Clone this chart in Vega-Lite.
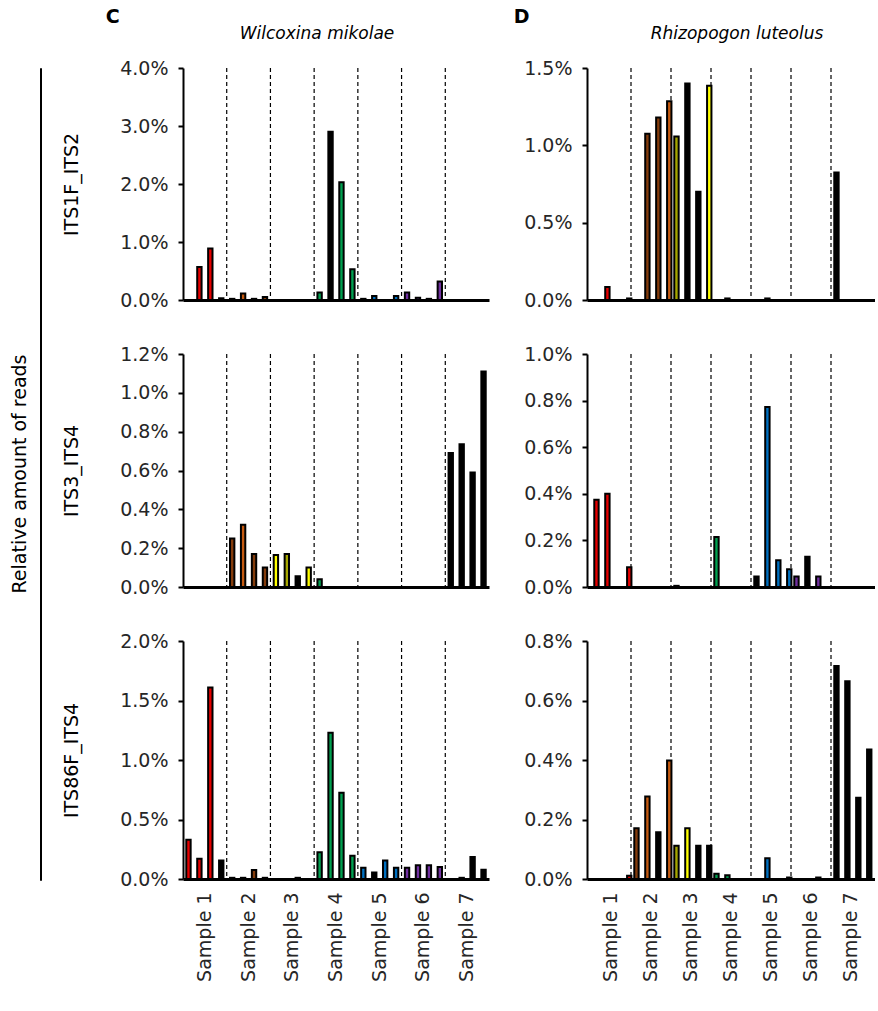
{
  "$schema": "https://vega.github.io/schema/vega-lite/v6.json",
  "padding": {"left": 10, "top": 8, "right": 0, "bottom": 0},
  "background": "white",
  "config": {
    "view": {"stroke": null},
    "font": "DejaVu Sans",
    "axis": {"labelFont": "DejaVu Sans", "labelFontSize": 19, "labelColor": "#262626", "domainColor": "black", "domainWidth": 2, "tickColor": "black", "tickWidth": 2, "tickSize": 5, "labelPadding": 10, "grid": false, "titleFont": "DejaVu Sans", "titleFontWeight": "normal", "titleColor": "#000", "titleFontSize": 19},
    "axisX": {"domainWidth": 3, "ticks": false},
    "title": {"font": "DejaVu Sans", "color": "#000"}
  },
  "datasets": {
    "dividers": [{"sample": "Sample 2"}, {"sample": "Sample 3"}, {"sample": "Sample 4"}, {"sample": "Sample 5"}, {"sample": "Sample 6"}, {"sample": "Sample 7"}],
    "bars": [
      {"species": "W", "primer": "ITS1F_ITS2", "sample": "Sample 1", "rep": 2, "value": 0.0057, "group": "S1"},
      {"species": "W", "primer": "ITS1F_ITS2", "sample": "Sample 1", "rep": 3, "value": 0.0089, "group": "S1"},
      {"species": "W", "primer": "ITS1F_ITS2", "sample": "Sample 1", "rep": 4, "value": 0.0003, "group": "K"},
      {"species": "W", "primer": "ITS1F_ITS2", "sample": "Sample 2", "rep": 1, "value": 0.0002, "group": "S2a"},
      {"species": "W", "primer": "ITS1F_ITS2", "sample": "Sample 2", "rep": 2, "value": 0.0011, "group": "S2b"},
      {"species": "W", "primer": "ITS1F_ITS2", "sample": "Sample 2", "rep": 3, "value": 0.0002, "group": "S2a"},
      {"species": "W", "primer": "ITS1F_ITS2", "sample": "Sample 2", "rep": 4, "value": 0.0005, "group": "S2a"},
      {"species": "W", "primer": "ITS1F_ITS2", "sample": "Sample 4", "rep": 1, "value": 0.0013, "group": "S4"},
      {"species": "W", "primer": "ITS1F_ITS2", "sample": "Sample 4", "rep": 2, "value": 0.029, "group": "K"},
      {"species": "W", "primer": "ITS1F_ITS2", "sample": "Sample 4", "rep": 3, "value": 0.0203, "group": "S4"},
      {"species": "W", "primer": "ITS1F_ITS2", "sample": "Sample 4", "rep": 4, "value": 0.0053, "group": "S4"},
      {"species": "W", "primer": "ITS1F_ITS2", "sample": "Sample 5", "rep": 1, "value": 0.0002, "group": "S5"},
      {"species": "W", "primer": "ITS1F_ITS2", "sample": "Sample 5", "rep": 2, "value": 0.0007, "group": "S5"},
      {"species": "W", "primer": "ITS1F_ITS2", "sample": "Sample 5", "rep": 4, "value": 0.0007, "group": "S5"},
      {"species": "W", "primer": "ITS1F_ITS2", "sample": "Sample 6", "rep": 1, "value": 0.0013, "group": "S6"},
      {"species": "W", "primer": "ITS1F_ITS2", "sample": "Sample 6", "rep": 2, "value": 0.0004, "group": "S6"},
      {"species": "W", "primer": "ITS1F_ITS2", "sample": "Sample 6", "rep": 3, "value": 0.0002, "group": "S6"},
      {"species": "W", "primer": "ITS1F_ITS2", "sample": "Sample 6", "rep": 4, "value": 0.0032, "group": "S6"},

      {"species": "W", "primer": "ITS3_ITS4", "sample": "Sample 2", "rep": 1, "value": 0.0025, "group": "S2a"},
      {"species": "W", "primer": "ITS3_ITS4", "sample": "Sample 2", "rep": 2, "value": 0.0032, "group": "S2b"},
      {"species": "W", "primer": "ITS3_ITS4", "sample": "Sample 2", "rep": 3, "value": 0.0017, "group": "S2a"},
      {"species": "W", "primer": "ITS3_ITS4", "sample": "Sample 2", "rep": 4, "value": 0.0010, "group": "S2a"},
      {"species": "W", "primer": "ITS3_ITS4", "sample": "Sample 3", "rep": 1, "value": 0.00165, "group": "S3a"},
      {"species": "W", "primer": "ITS3_ITS4", "sample": "Sample 3", "rep": 2, "value": 0.0017, "group": "S3b"},
      {"species": "W", "primer": "ITS3_ITS4", "sample": "Sample 3", "rep": 3, "value": 0.00055, "group": "K"},
      {"species": "W", "primer": "ITS3_ITS4", "sample": "Sample 3", "rep": 4, "value": 0.0010, "group": "S3a"},
      {"species": "W", "primer": "ITS3_ITS4", "sample": "Sample 4", "rep": 1, "value": 0.0004, "group": "S4"},
      {"species": "W", "primer": "ITS3_ITS4", "sample": "Sample 7", "rep": 1, "value": 0.0069, "group": "K"},
      {"species": "W", "primer": "ITS3_ITS4", "sample": "Sample 7", "rep": 2, "value": 0.00735, "group": "K"},
      {"species": "W", "primer": "ITS3_ITS4", "sample": "Sample 7", "rep": 3, "value": 0.0059, "group": "K"},
      {"species": "W", "primer": "ITS3_ITS4", "sample": "Sample 7", "rep": 4, "value": 0.0111, "group": "K"},

      {"species": "W", "primer": "ITS86F_ITS4", "sample": "Sample 1", "rep": 1, "value": 0.0033, "group": "S1"},
      {"species": "W", "primer": "ITS86F_ITS4", "sample": "Sample 1", "rep": 2, "value": 0.0017, "group": "S1"},
      {"species": "W", "primer": "ITS86F_ITS4", "sample": "Sample 1", "rep": 3, "value": 0.0161, "group": "S1"},
      {"species": "W", "primer": "ITS86F_ITS4", "sample": "Sample 1", "rep": 4, "value": 0.00155, "group": "K"},
      {"species": "W", "primer": "ITS86F_ITS4", "sample": "Sample 2", "rep": 1, "value": 0.0001, "group": "S2a"},
      {"species": "W", "primer": "ITS86F_ITS4", "sample": "Sample 2", "rep": 2, "value": 0.0001, "group": "S2b"},
      {"species": "W", "primer": "ITS86F_ITS4", "sample": "Sample 2", "rep": 3, "value": 0.00075, "group": "S2a"},
      {"species": "W", "primer": "ITS86F_ITS4", "sample": "Sample 2", "rep": 4, "value": 0.0001, "group": "S2b"},
      {"species": "W", "primer": "ITS86F_ITS4", "sample": "Sample 3", "rep": 3, "value": 0.0001, "group": "K"},
      {"species": "W", "primer": "ITS86F_ITS4", "sample": "Sample 4", "rep": 1, "value": 0.00225, "group": "S4"},
      {"species": "W", "primer": "ITS86F_ITS4", "sample": "Sample 4", "rep": 2, "value": 0.0123, "group": "S4"},
      {"species": "W", "primer": "ITS86F_ITS4", "sample": "Sample 4", "rep": 3, "value": 0.00725, "group": "S4"},
      {"species": "W", "primer": "ITS86F_ITS4", "sample": "Sample 4", "rep": 4, "value": 0.00195, "group": "S4"},
      {"species": "W", "primer": "ITS86F_ITS4", "sample": "Sample 5", "rep": 1, "value": 0.00095, "group": "S5"},
      {"species": "W", "primer": "ITS86F_ITS4", "sample": "Sample 5", "rep": 2, "value": 0.00055, "group": "K"},
      {"species": "W", "primer": "ITS86F_ITS4", "sample": "Sample 5", "rep": 3, "value": 0.00155, "group": "S5"},
      {"species": "W", "primer": "ITS86F_ITS4", "sample": "Sample 5", "rep": 4, "value": 0.00095, "group": "S5"},
      {"species": "W", "primer": "ITS86F_ITS4", "sample": "Sample 6", "rep": 1, "value": 0.00095, "group": "S6"},
      {"species": "W", "primer": "ITS86F_ITS4", "sample": "Sample 6", "rep": 2, "value": 0.00115, "group": "S6"},
      {"species": "W", "primer": "ITS86F_ITS4", "sample": "Sample 6", "rep": 3, "value": 0.00115, "group": "S6"},
      {"species": "W", "primer": "ITS86F_ITS4", "sample": "Sample 6", "rep": 4, "value": 0.0010, "group": "S6"},
      {"species": "W", "primer": "ITS86F_ITS4", "sample": "Sample 7", "rep": 2, "value": 0.0001, "group": "K"},
      {"species": "W", "primer": "ITS86F_ITS4", "sample": "Sample 7", "rep": 3, "value": 0.00185, "group": "K"},
      {"species": "W", "primer": "ITS86F_ITS4", "sample": "Sample 7", "rep": 4, "value": 0.00078, "group": "K"},

      {"species": "R", "primer": "ITS1F_ITS2", "sample": "Sample 1", "rep": 2, "value": 0.00084, "group": "S1"},
      {"species": "R", "primer": "ITS1F_ITS2", "sample": "Sample 1", "rep": 4, "value": 0.0001, "group": "K"},
      {"species": "R", "primer": "ITS1F_ITS2", "sample": "Sample 2", "rep": 2, "value": 0.01075, "group": "S2a"},
      {"species": "R", "primer": "ITS1F_ITS2", "sample": "Sample 2", "rep": 3, "value": 0.0118, "group": "S2a"},
      {"species": "R", "primer": "ITS1F_ITS2", "sample": "Sample 2", "rep": 4, "value": 0.01285, "group": "S2b"},
      {"species": "R", "primer": "ITS1F_ITS2", "sample": "Sample 3", "rep": 1, "value": 0.01057, "group": "S3b"},
      {"species": "R", "primer": "ITS1F_ITS2", "sample": "Sample 3", "rep": 2, "value": 0.0140, "group": "K"},
      {"species": "R", "primer": "ITS1F_ITS2", "sample": "Sample 3", "rep": 3, "value": 0.0070, "group": "K"},
      {"species": "R", "primer": "ITS1F_ITS2", "sample": "Sample 3", "rep": 4, "value": 0.01385, "group": "S3a"},
      {"species": "R", "primer": "ITS1F_ITS2", "sample": "Sample 4", "rep": 2, "value": 0.0001, "group": "K"},
      {"species": "R", "primer": "ITS1F_ITS2", "sample": "Sample 5", "rep": 2, "value": 0.0001, "group": "K"},
      {"species": "R", "primer": "ITS1F_ITS2", "sample": "Sample 7", "rep": 1, "value": 0.00825, "group": "K"},

      {"species": "R", "primer": "ITS3_ITS4", "sample": "Sample 1", "rep": 1, "value": 0.00375, "group": "S1"},
      {"species": "R", "primer": "ITS3_ITS4", "sample": "Sample 1", "rep": 2, "value": 0.0040, "group": "S1"},
      {"species": "R", "primer": "ITS3_ITS4", "sample": "Sample 1", "rep": 4, "value": 0.00085, "group": "S1"},
      {"species": "R", "primer": "ITS3_ITS4", "sample": "Sample 3", "rep": 1, "value": 0.00005, "group": "K"},
      {"species": "R", "primer": "ITS3_ITS4", "sample": "Sample 4", "rep": 1, "value": 0.00215, "group": "S4"},
      {"species": "R", "primer": "ITS3_ITS4", "sample": "Sample 5", "rep": 1, "value": 0.00045, "group": "K"},
      {"species": "R", "primer": "ITS3_ITS4", "sample": "Sample 5", "rep": 2, "value": 0.00772, "group": "S5"},
      {"species": "R", "primer": "ITS3_ITS4", "sample": "Sample 5", "rep": 3, "value": 0.00115, "group": "S5"},
      {"species": "R", "primer": "ITS3_ITS4", "sample": "Sample 5", "rep": 4, "value": 0.00076, "group": "S5"},
      {"species": "R", "primer": "ITS3_ITS4", "sample": "Sample 6", "rep": 1, "value": 0.00045, "group": "S6"},
      {"species": "R", "primer": "ITS3_ITS4", "sample": "Sample 6", "rep": 2, "value": 0.0013, "group": "K"},
      {"species": "R", "primer": "ITS3_ITS4", "sample": "Sample 6", "rep": 3, "value": 0.00045, "group": "S6"},

      {"species": "R", "primer": "ITS86F_ITS4", "sample": "Sample 1", "rep": 4, "value": 0.00011, "group": "S1"},
      {"species": "R", "primer": "ITS86F_ITS4", "sample": "Sample 2", "rep": 1, "value": 0.00171, "group": "S2a"},
      {"species": "R", "primer": "ITS86F_ITS4", "sample": "Sample 2", "rep": 2, "value": 0.00277, "group": "S2b"},
      {"species": "R", "primer": "ITS86F_ITS4", "sample": "Sample 2", "rep": 3, "value": 0.00157, "group": "K"},
      {"species": "R", "primer": "ITS86F_ITS4", "sample": "Sample 2", "rep": 4, "value": 0.00398, "group": "S2b"},
      {"species": "R", "primer": "ITS86F_ITS4", "sample": "Sample 3", "rep": 1, "value": 0.00112, "group": "S3b"},
      {"species": "R", "primer": "ITS86F_ITS4", "sample": "Sample 3", "rep": 2, "value": 0.00171, "group": "S3a"},
      {"species": "R", "primer": "ITS86F_ITS4", "sample": "Sample 3", "rep": 3, "value": 0.00112, "group": "K"},
      {"species": "R", "primer": "ITS86F_ITS4", "sample": "Sample 3", "rep": 4, "value": 0.00112, "group": "K"},
      {"species": "R", "primer": "ITS86F_ITS4", "sample": "Sample 4", "rep": 1, "value": 0.00018, "group": "S4"},
      {"species": "R", "primer": "ITS86F_ITS4", "sample": "Sample 4", "rep": 2, "value": 0.00013, "group": "S4"},
      {"species": "R", "primer": "ITS86F_ITS4", "sample": "Sample 5", "rep": 2, "value": 0.0007, "group": "S5"},
      {"species": "R", "primer": "ITS86F_ITS4", "sample": "Sample 5", "rep": 4, "value": 0.00005, "group": "K"},
      {"species": "R", "primer": "ITS86F_ITS4", "sample": "Sample 6", "rep": 3, "value": 0.00005, "group": "K"},
      {"species": "R", "primer": "ITS86F_ITS4", "sample": "Sample 7", "rep": 1, "value": 0.00716, "group": "K"},
      {"species": "R", "primer": "ITS86F_ITS4", "sample": "Sample 7", "rep": 2, "value": 0.00665, "group": "K"},
      {"species": "R", "primer": "ITS86F_ITS4", "sample": "Sample 7", "rep": 3, "value": 0.00273, "group": "K"},
      {"species": "R", "primer": "ITS86F_ITS4", "sample": "Sample 7", "rep": 4, "value": 0.00435, "group": "K"}
    ]
  },
  "spacing": 20,
  "hconcat": [
    {"width": 1, "height": 812, "data": {"values": []}, "mark": "rule", "encoding": {},
     "view": {"stroke": "black", "strokeWidth": 1},
     "title": {"text": "Relative amount of reads", "orient": "left", "fontSize": 19, "fontWeight": "normal", "font": "DejaVu Sans", "offset": 10}},
    {
      "spacing": 24,
      "hconcat": [
        {
          "title": {"text": "C", "anchor": "start", "fontSize": 19, "fontWeight": "bold", "dx": 43, "offset": -2},
          "spacing": 35,
          "vconcat": [
            {
              "width": 306, "height": 232,
              "title": {"text": "Wilcoxina mikolae", "fontStyle": "italic", "fontWeight": "normal", "fontSize": 17, "frame": "group", "dx": -19, "offset": 16},
              "layer": [
                {"data": {"name": "dividers"}, "mark": {"type": "rule", "color": "black", "strokeDash": [4, 3], "strokeWidth": 1.2},
                 "encoding": {"x": {"field": "sample", "type": "nominal", "bandPosition": 0, "scale": {"type": "band", "domain": ["Sample 1", "Sample 2", "Sample 3", "Sample 4", "Sample 5", "Sample 6", "Sample 7"], "paddingInner": 0, "paddingOuter": 0}}}},
                {"data": {"name": "bars"}, "transform": [{"filter": "datum.species == 'W' && datum.primer == 'ITS1F_ITS2'"}],
                 "mark": {"type": "bar", "stroke": "black", "strokeWidth": 2},
                 "encoding": {
                   "x": {"field": "sample", "type": "nominal", "scale": {"type": "band", "domain": ["Sample 1", "Sample 2", "Sample 3", "Sample 4", "Sample 5", "Sample 6", "Sample 7"], "paddingInner": 0, "paddingOuter": 0}, "axis": {"labels": false, "title": null}},
                   "xOffset": {"field": "rep", "type": "ordinal", "scale": {"domain": [1, 2, 3, 4], "paddingInner": 0.6, "paddingOuter": 0.3}},
                   "y": {"field": "value", "type": "quantitative", "scale": {"domain": [0, 0.04], "nice": false}, "axis": {"values": [0, 0.01, 0.02, 0.03, 0.04], "format": ".1%", "title": "ITS1F_ITS2", "titlePadding": 38}},
                   "color": {"field": "group", "type": "nominal", "legend": null, "scale": {"domain": ["S1", "S2a", "S2b", "S3a", "S3b", "S4", "S5", "S6", "K"], "range": ["#e60000", "#843c0c", "#c55a11", "#ffff00", "#a6a600", "#00a050", "#0070c0", "#7030a0", "#000000"]}}
                 }}
              ]
            },
            {
              "width": 306, "height": 233,
              "layer": [
                {"data": {"name": "dividers"}, "mark": {"type": "rule", "color": "black", "strokeDash": [4, 3], "strokeWidth": 1.2},
                 "encoding": {"x": {"field": "sample", "type": "nominal", "bandPosition": 0, "scale": {"type": "band", "domain": ["Sample 1", "Sample 2", "Sample 3", "Sample 4", "Sample 5", "Sample 6", "Sample 7"], "paddingInner": 0, "paddingOuter": 0}}}},
                {"data": {"name": "bars"}, "transform": [{"filter": "datum.species == 'W' && datum.primer == 'ITS3_ITS4'"}],
                 "mark": {"type": "bar", "stroke": "black", "strokeWidth": 2},
                 "encoding": {
                   "x": {"field": "sample", "type": "nominal", "scale": {"type": "band", "domain": ["Sample 1", "Sample 2", "Sample 3", "Sample 4", "Sample 5", "Sample 6", "Sample 7"], "paddingInner": 0, "paddingOuter": 0}, "axis": {"labels": false, "title": null}},
                   "xOffset": {"field": "rep", "type": "ordinal", "scale": {"domain": [1, 2, 3, 4], "paddingInner": 0.6, "paddingOuter": 0.3}},
                   "y": {"field": "value", "type": "quantitative", "scale": {"domain": [0, 0.012], "nice": false}, "axis": {"values": [0, 0.002, 0.004, 0.006, 0.008, 0.01, 0.012], "format": ".1%", "title": "ITS3_ITS4", "titlePadding": 38}},
                   "color": {"field": "group", "type": "nominal", "legend": null, "scale": {"domain": ["S1", "S2a", "S2b", "S3a", "S3b", "S4", "S5", "S6", "K"], "range": ["#e60000", "#843c0c", "#c55a11", "#ffff00", "#a6a600", "#00a050", "#0070c0", "#7030a0", "#000000"]}}
                 }}
              ]
            },
            {
              "width": 306, "height": 238,
              "layer": [
                {"data": {"name": "dividers"}, "mark": {"type": "rule", "color": "black", "strokeDash": [4, 3], "strokeWidth": 1.2},
                 "encoding": {"x": {"field": "sample", "type": "nominal", "bandPosition": 0, "scale": {"type": "band", "domain": ["Sample 1", "Sample 2", "Sample 3", "Sample 4", "Sample 5", "Sample 6", "Sample 7"], "paddingInner": 0, "paddingOuter": 0}}}},
                {"data": {"name": "bars"}, "transform": [{"filter": "datum.species == 'W' && datum.primer == 'ITS86F_ITS4'"}],
                 "mark": {"type": "bar", "stroke": "black", "strokeWidth": 2},
                 "encoding": {
                   "x": {"field": "sample", "type": "nominal", "scale": {"type": "band", "domain": ["Sample 1", "Sample 2", "Sample 3", "Sample 4", "Sample 5", "Sample 6", "Sample 7"], "paddingInner": 0, "paddingOuter": 0}, "axis": {"labelAngle": -90, "labelPadding": 13, "title": null}},
                   "xOffset": {"field": "rep", "type": "ordinal", "scale": {"domain": [1, 2, 3, 4], "paddingInner": 0.6, "paddingOuter": 0.3}},
                   "y": {"field": "value", "type": "quantitative", "scale": {"domain": [0, 0.02], "nice": false}, "axis": {"values": [0, 0.005, 0.01, 0.015, 0.02], "format": ".1%", "title": "ITS86F_ITS4", "titlePadding": 38}},
                   "color": {"field": "group", "type": "nominal", "legend": null, "scale": {"domain": ["S1", "S2a", "S2b", "S3a", "S3b", "S4", "S5", "S6", "K"], "range": ["#e60000", "#843c0c", "#c55a11", "#ffff00", "#a6a600", "#00a050", "#0070c0", "#7030a0", "#000000"]}}
                 }}
              ]
            }
          ]
        },
        {
          "title": {"text": "D", "anchor": "start", "fontSize": 19, "fontWeight": "bold", "dx": -10, "offset": -2},
          "spacing": 35,
          "vconcat": [
            {
              "width": 288, "height": 232,
              "title": {"text": "Rhizopogon luteolus", "fontStyle": "italic", "fontWeight": "normal", "fontSize": 17, "frame": "group", "dx": 6, "offset": 16},
              "layer": [
                {"data": {"name": "dividers"}, "mark": {"type": "rule", "color": "black", "strokeDash": [4, 3], "strokeWidth": 1.2},
                 "encoding": {"x": {"field": "sample", "type": "nominal", "bandPosition": 0, "scale": {"type": "band", "domain": ["Sample 1", "Sample 2", "Sample 3", "Sample 4", "Sample 5", "Sample 6", "Sample 7"], "paddingInner": 0, "paddingOuter": 0.1}}}},
                {"data": {"name": "bars"}, "transform": [{"filter": "datum.species == 'R' && datum.primer == 'ITS1F_ITS2'"}],
                 "mark": {"type": "bar", "stroke": "black", "strokeWidth": 2},
                 "encoding": {
                   "x": {"field": "sample", "type": "nominal", "scale": {"type": "band", "domain": ["Sample 1", "Sample 2", "Sample 3", "Sample 4", "Sample 5", "Sample 6", "Sample 7"], "paddingInner": 0, "paddingOuter": 0.1}, "axis": {"labels": false, "title": null}},
                   "xOffset": {"field": "rep", "type": "ordinal", "scale": {"domain": [1, 2, 3, 4], "paddingInner": 0.6, "paddingOuter": 0.3}},
                   "y": {"field": "value", "type": "quantitative", "scale": {"domain": [0, 0.015], "nice": false}, "axis": {"values": [0, 0.005, 0.01, 0.015], "format": ".1%", "title": null}},
                   "color": {"field": "group", "type": "nominal", "legend": null, "scale": {"domain": ["S1", "S2a", "S2b", "S3a", "S3b", "S4", "S5", "S6", "K"], "range": ["#e60000", "#843c0c", "#c55a11", "#ffff00", "#a6a600", "#00a050", "#0070c0", "#7030a0", "#000000"]}}
                 }}
              ]
            },
            {
              "width": 288, "height": 233,
              "layer": [
                {"data": {"name": "dividers"}, "mark": {"type": "rule", "color": "black", "strokeDash": [4, 3], "strokeWidth": 1.2},
                 "encoding": {"x": {"field": "sample", "type": "nominal", "bandPosition": 0, "scale": {"type": "band", "domain": ["Sample 1", "Sample 2", "Sample 3", "Sample 4", "Sample 5", "Sample 6", "Sample 7"], "paddingInner": 0, "paddingOuter": 0.1}}}},
                {"data": {"name": "bars"}, "transform": [{"filter": "datum.species == 'R' && datum.primer == 'ITS3_ITS4'"}],
                 "mark": {"type": "bar", "stroke": "black", "strokeWidth": 2},
                 "encoding": {
                   "x": {"field": "sample", "type": "nominal", "scale": {"type": "band", "domain": ["Sample 1", "Sample 2", "Sample 3", "Sample 4", "Sample 5", "Sample 6", "Sample 7"], "paddingInner": 0, "paddingOuter": 0.1}, "axis": {"labels": false, "title": null}},
                   "xOffset": {"field": "rep", "type": "ordinal", "scale": {"domain": [1, 2, 3, 4], "paddingInner": 0.6, "paddingOuter": 0.3}},
                   "y": {"field": "value", "type": "quantitative", "scale": {"domain": [0, 0.01], "nice": false}, "axis": {"values": [0, 0.002, 0.004, 0.006, 0.008, 0.01], "format": ".1%", "title": null}},
                   "color": {"field": "group", "type": "nominal", "legend": null, "scale": {"domain": ["S1", "S2a", "S2b", "S3a", "S3b", "S4", "S5", "S6", "K"], "range": ["#e60000", "#843c0c", "#c55a11", "#ffff00", "#a6a600", "#00a050", "#0070c0", "#7030a0", "#000000"]}}
                 }}
              ]
            },
            {
              "width": 288, "height": 238,
              "layer": [
                {"data": {"name": "dividers"}, "mark": {"type": "rule", "color": "black", "strokeDash": [4, 3], "strokeWidth": 1.2},
                 "encoding": {"x": {"field": "sample", "type": "nominal", "bandPosition": 0, "scale": {"type": "band", "domain": ["Sample 1", "Sample 2", "Sample 3", "Sample 4", "Sample 5", "Sample 6", "Sample 7"], "paddingInner": 0, "paddingOuter": 0.1}}}},
                {"data": {"name": "bars"}, "transform": [{"filter": "datum.species == 'R' && datum.primer == 'ITS86F_ITS4'"}],
                 "mark": {"type": "bar", "stroke": "black", "strokeWidth": 2},
                 "encoding": {
                   "x": {"field": "sample", "type": "nominal", "scale": {"type": "band", "domain": ["Sample 1", "Sample 2", "Sample 3", "Sample 4", "Sample 5", "Sample 6", "Sample 7"], "paddingInner": 0, "paddingOuter": 0.1}, "axis": {"labelAngle": -90, "labelPadding": 13, "title": null}},
                   "xOffset": {"field": "rep", "type": "ordinal", "scale": {"domain": [1, 2, 3, 4], "paddingInner": 0.6, "paddingOuter": 0.3}},
                   "y": {"field": "value", "type": "quantitative", "scale": {"domain": [0, 0.008], "nice": false}, "axis": {"values": [0, 0.002, 0.004, 0.006, 0.008], "format": ".1%", "title": null}},
                   "color": {"field": "group", "type": "nominal", "legend": null, "scale": {"domain": ["S1", "S2a", "S2b", "S3a", "S3b", "S4", "S5", "S6", "K"], "range": ["#e60000", "#843c0c", "#c55a11", "#ffff00", "#a6a600", "#00a050", "#0070c0", "#7030a0", "#000000"]}}
                 }}
              ]
            }
          ]
        }
      ]
    }
  ]
}
